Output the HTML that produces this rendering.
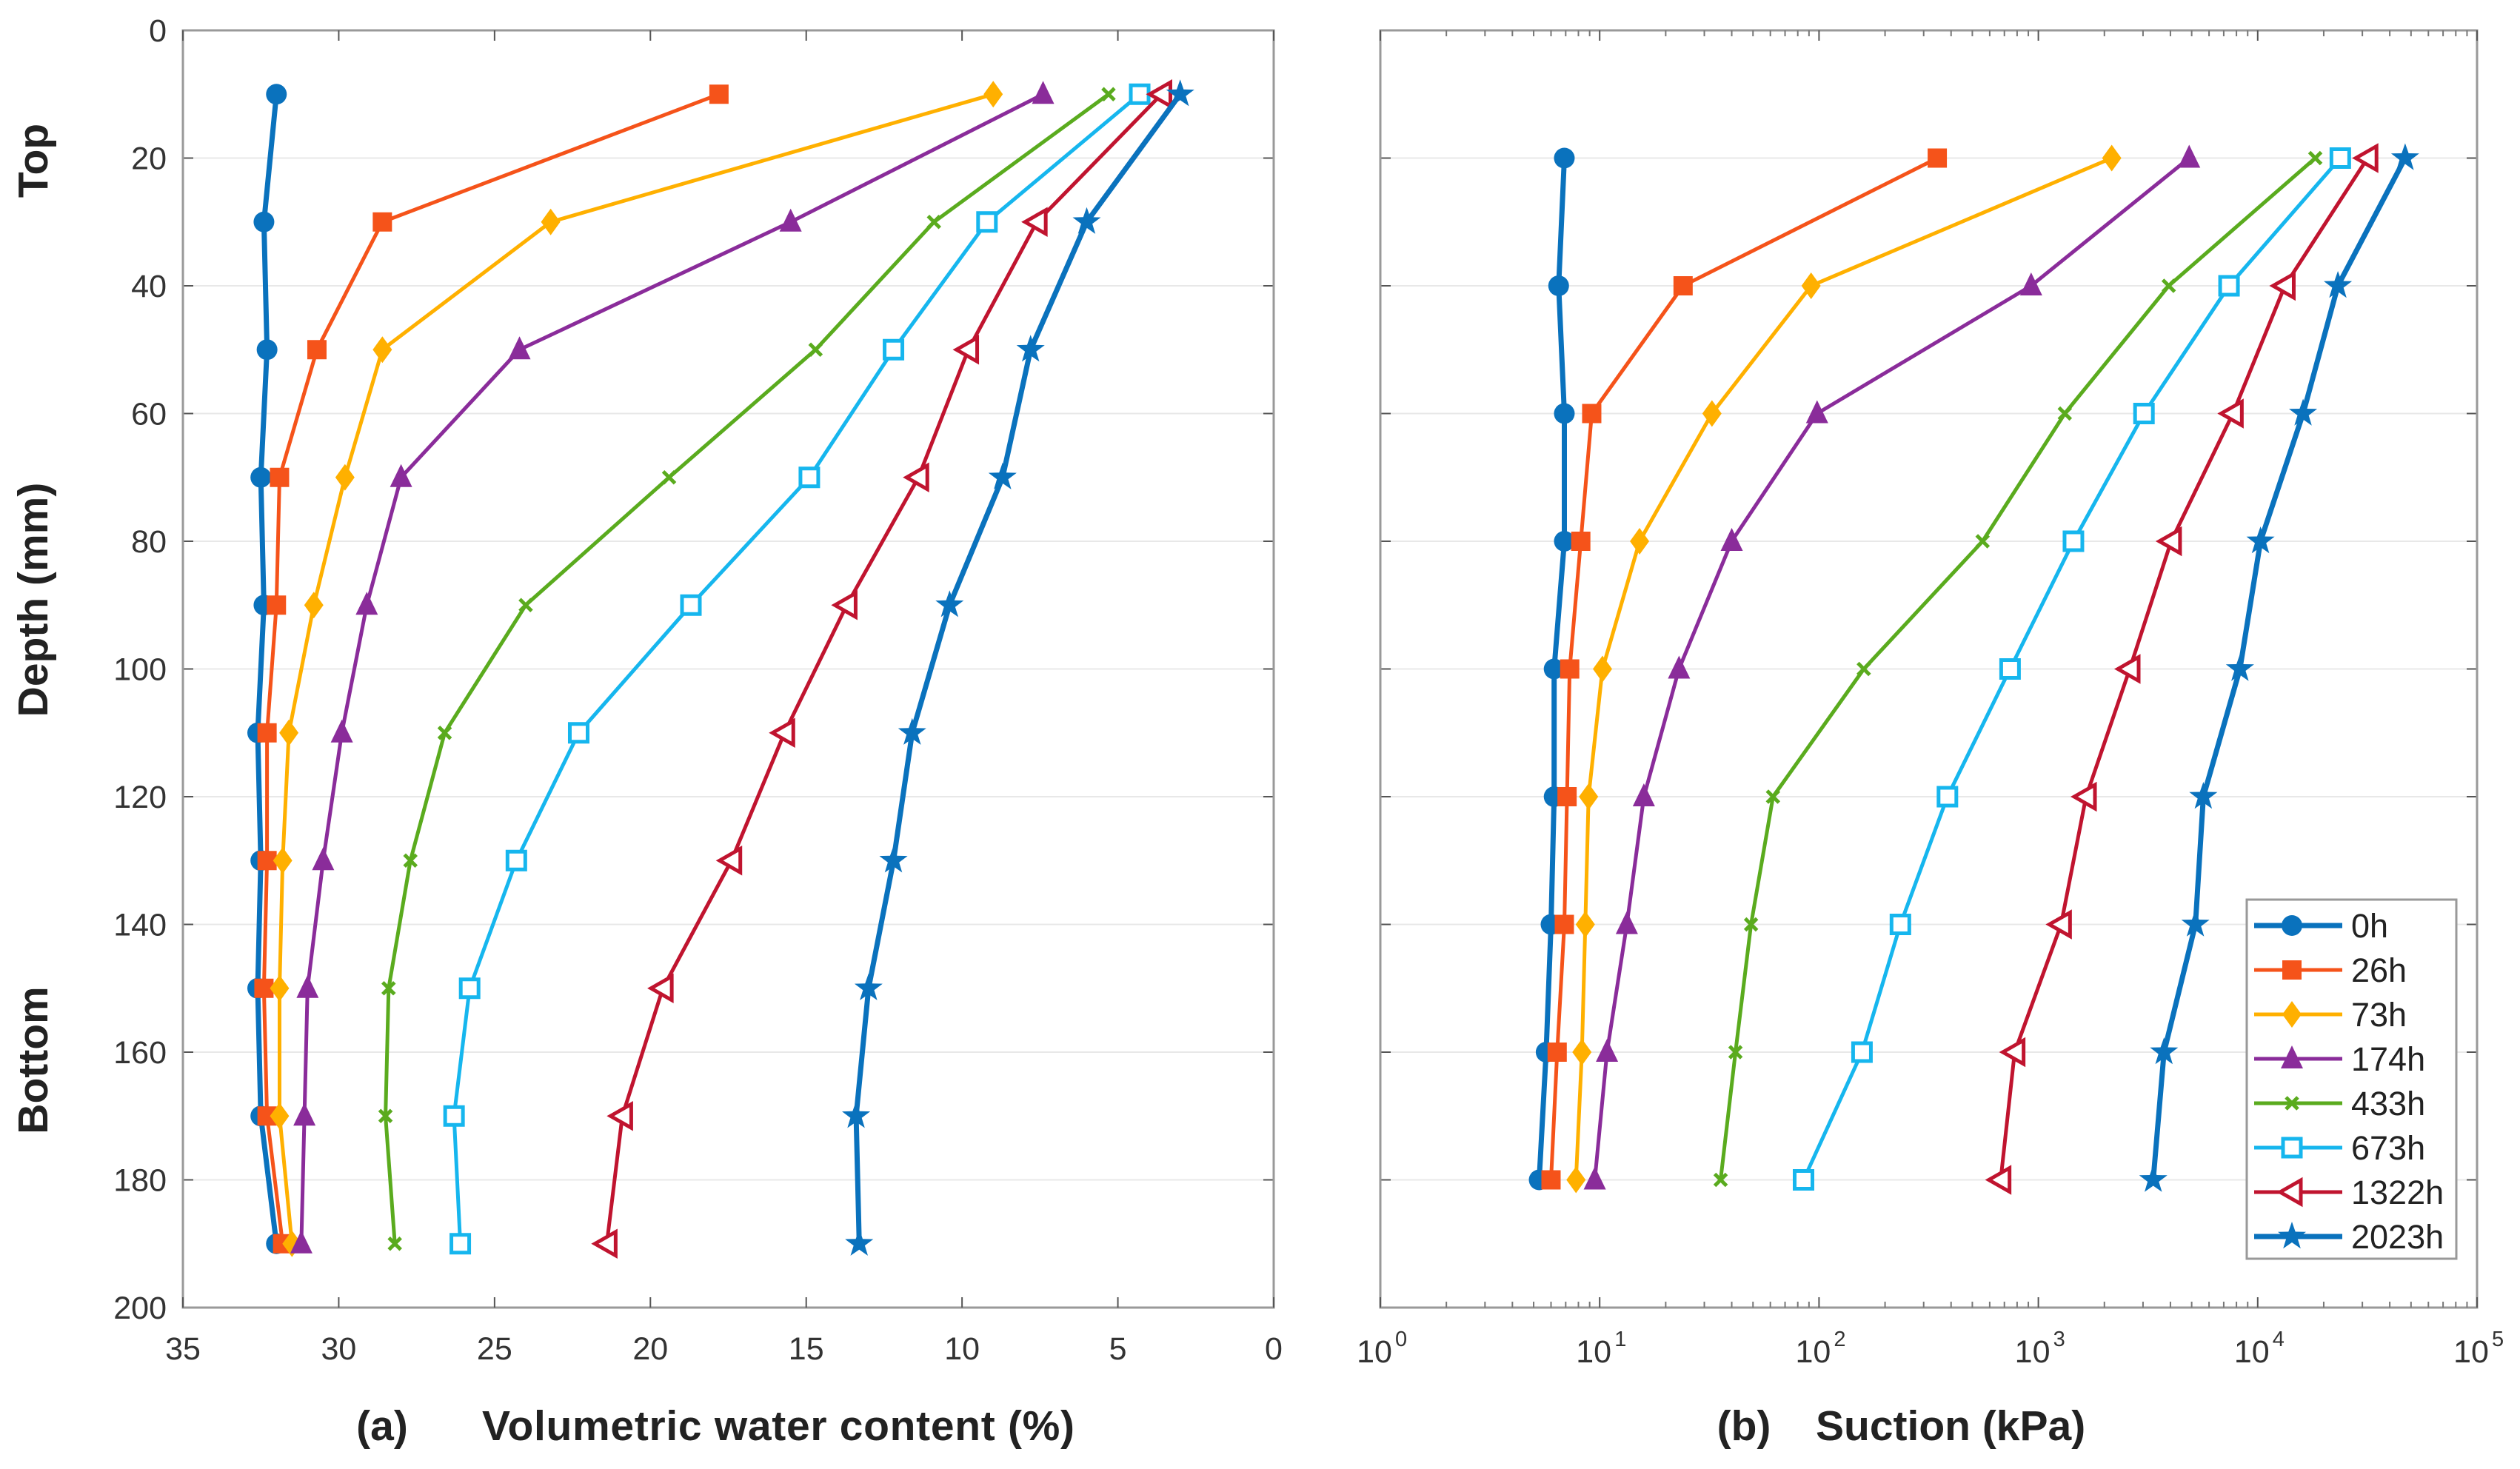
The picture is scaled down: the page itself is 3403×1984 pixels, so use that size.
<!DOCTYPE html>
<html><head><meta charset="utf-8">
<style>
html,body{margin:0;padding:0;background:#fff;}
svg{display:block;font-family:"Liberation Sans",sans-serif;}
</style></head>
<body>
<svg id="chart" width="3403" height="1984" viewBox="0 0 3403 1984" xmlns="http://www.w3.org/2000/svg">
<g id="axA"></g>
<g id="axB"></g>
</svg>
<script>
const seriesNames = ["0h","26h","73h","174h","433h","673h","1322h","2023h"];
const depthsA = [10,30,50,70,90,110,130,150,170,190];
const depthsB = [20,40,60,80,100,120,140,160,180];
const wc0h = [32.0,32.4,32.3,32.5,32.4,32.6,32.5,32.6,32.5,32.0];
const wc26h = [17.8,28.6,30.7,31.9,32.0,32.3,32.3,32.4,32.3,31.8];
const wc73h = [9.0,23.2,28.6,29.8,30.8,31.6,31.8,31.9,31.9,31.5];
const wc174h = [7.4,15.5,24.2,28.0,29.1,29.9,30.5,31.0,31.1,31.2];
const wc433h = [5.3,10.9,14.7,19.4,24.0,26.6,27.7,28.4,28.5,28.2];
const wc673h = [4.3,9.2,12.2,14.9,18.7,22.3,24.3,25.8,26.3,26.1];
const wc1322h = [3.6,7.6,9.8,11.4,13.7,15.7,17.4,19.6,20.9,21.4];
const wc2023h = [3.0,6.0,7.8,8.7,10.4,11.6,12.2,13.0,13.4,13.3];
const su0h = [6.9,6.5,6.9,6.9,6.2,6.2,6.0,5.7,5.3];
const su26h = [346,24,9.2,8.2,7.3,7.1,6.9,6.4,6.0];
const su73h = [2160,92,32.5,15.2,10.3,8.9,8.6,8.3,7.8];
const su174h = [4870,927,98,40,23,15.9,13.3,10.8,9.5];
const su433h = [18300,3930,1320,557,160,61.7,49,41.6,35.6];
const su673h = [23800,7400,3030,1445,743,385,235,157,85];
const su1322h = [31700,13300,7710,4030,2610,1650,1270,780,673];
const su2023h = [47000,23200,16100,10300,8300,5650,5200,3740,3340];
const yTicks = [0,20,40,60,80,100,120,140,160,180,200];
const xTicksA = [35,30,25,20,15,10,5,0];
const xTicksBexp = [0,1,2,3,4,5];

const wcAll=[wc0h,wc26h,wc73h,wc174h,wc433h,wc673h,wc1322h,wc2023h];
const suAll=[su0h,su26h,su73h,su174h,su433h,su673h,su1322h,su2023h];
const colors=["#0a72bd","#f5531a","#ffb000","#8a2c9a","#5aab1e","#16b6ee","#c0142f","#0a72bd"];
const widths=[7,5,5,5,5,5,5,7];
const markers=["circle","square","diamond","triangle","x","osquare","otri","star"];
const NS="http://www.w3.org/2000/svg";
const Y0=41,Y1=1766;
const A={l:247,r:1720}, B={l:1864,r:3345};
const yS=d=>Y0+(d-0)/200*(Y1-Y0);
const xA=v=>A.l+(35-v)/35*(A.r-A.l);
const xB=v=>B.l+Math.log10(v)/5*(B.r-B.l);
function el(tag,attrs,parent){const e=document.createElementNS(NS,tag);for(const k in attrs)e.setAttribute(k,attrs[k]);parent.appendChild(e);return e;}
function marker(g,type,x,y,c){
  let m;
  if(type==="circle") m=el("circle",{cx:x,cy:y,r:14,fill:c},g);
  else if(type==="square") m=el("rect",{x:x-13,y:y-13,width:26,height:26,fill:c},g);
  else if(type==="diamond") m=el("polygon",{points:`${x},${y-18} ${x+13},${y} ${x},${y+18} ${x-13},${y}`,fill:c},g);
  else if(type==="triangle") m=el("polygon",{points:`${x},${y-18} ${x+15},${y+13} ${x-15},${y+13}`,fill:c},g);
  else if(type==="x") m=el("path",{d:`M${x-8},${y-8}L${x+8},${y+8}M${x+8},${y-8}L${x-8},${y+8}`,stroke:c,"stroke-width":5,fill:"none"},g);
  else if(type==="osquare") m=el("rect",{x:x-12,y:y-12,width:24,height:24,fill:"#fff",stroke:c,"stroke-width":5},g);
  else if(type==="otri") m=el("polygon",{points:`${x-16},${y} ${x+12},${y-16} ${x+12},${y+16}`,fill:"#fff",stroke:c,"stroke-width":5},g);
  else { let p=[];for(let i=0;i<10;i++){const a=-Math.PI/2+i*Math.PI/5;const r=i%2?8:20;p.push((x+r*Math.cos(a)).toFixed(1)+","+(y+r*Math.sin(a)).toFixed(1));} m=el("polygon",{points:p.join(" "),fill:c},g);}
  
  
}
function frame(g,ax,labelsY){
  for(const t of yTicks){const y=yS(t);
    if(t>0&&t<200){const gl=el("line",{x1:ax.l,x2:ax.r,y1:y,y2:y,stroke:"#e8e8e8","stroke-width":2},g);}
    el("line",{x1:ax.l,x2:ax.l+14,y1:y,y2:y,stroke:"#555","stroke-width":2},g);
    el("line",{x1:ax.r,x2:ax.r-14,y1:y,y2:y,stroke:"#555","stroke-width":2},g);
    if(labelsY){const tx=el("text",{x:ax.l-22,y:y+15,"text-anchor":"end","font-size":43,fill:"#333"},g);tx.textContent=t;
      }
  }
  const fr=el("rect",{x:ax.l,y:Y0,width:ax.r-ax.l,height:Y1-Y0,fill:"none",stroke:"#999","stroke-width":3},g);
  
}
const gA=document.getElementById("axA"), gB=document.getElementById("axB");
frame(gA,A,true); frame(gB,B,false);
for(const v of xTicksA){const x=xA(v);
  el("line",{x1:x,x2:x,y1:Y1,y2:Y1-14,stroke:"#555","stroke-width":2},gA);
  el("line",{x1:x,x2:x,y1:Y0,y2:Y0+14,stroke:"#555","stroke-width":2},gA);
  const t=el("text",{x:x,y:1836,"text-anchor":"middle","font-size":43,fill:"#333"},gA);t.textContent=v;
  }
for(const e of xTicksBexp){const x=xB(Math.pow(10,e));
  el("line",{x1:x,x2:x,y1:Y1,y2:Y1-14,stroke:"#555","stroke-width":2},gB);
  el("line",{x1:x,x2:x,y1:Y0,y2:Y0+14,stroke:"#555","stroke-width":2},gB);
  if(e<5)for(let k=2;k<10;k++){const xm=xB(k*Math.pow(10,e));el("line",{x1:xm,x2:xm,y1:Y1,y2:Y1-8,stroke:"#777","stroke-width":2},gB);el("line",{x1:xm,x2:xm,y1:Y0,y2:Y0+8,stroke:"#777","stroke-width":2},gB);}
  const t=el("text",{x:x-8,y:1840,"text-anchor":"middle","font-size":43,fill:"#333"},gB);t.textContent="10";
  
  const s=el("text",{x:x+20,y:1818,"font-size":29,fill:"#333"},gB);s.textContent=e;
  }
function series(g,xs,ys,xf,i){
  const sg=el("g",{},g);
  const pts=xs.map((v,j)=>xf(v).toFixed(1)+","+yS(ys[j]).toFixed(1)).join(" ");
  el("polyline",{points:pts,fill:"none",stroke:colors[i],"stroke-width":widths[i],"stroke-linejoin":"round"},sg);
  xs.forEach((v,j)=>marker(sg,markers[i],xf(v),yS(ys[j]),colors[i]));
}
wcAll.forEach((arr,i)=>series(gA,arr,depthsA,xA,i));
suAll.forEach((arr,i)=>series(gB,arr,depthsB,xB,i));
const lg=el("g",{},gB);
el("rect",{x:3034,y:1215,width:283,height:485,fill:"#fff",stroke:"#999","stroke-width":3},lg);
seriesNames.forEach((n,i)=>{const y=1250+i*60;
  const eg=el("g",{},lg);
  el("line",{x1:3044,x2:3163,y1:y,y2:y,stroke:colors[i],"stroke-width":widths[i]},eg);
  marker(eg,markers[i],3095,y,colors[i]);
  const t=el("text",{x:3175,y:y+16,"font-size":45,fill:"#222"},eg);t.textContent=n;});
function txt(g,attrs,s,name){const t=el("text",attrs,g);t.textContent=s;return t;}
txt(gA,{x:516,y:1945,"text-anchor":"middle","font-size":57,"font-weight":"bold",fill:"#222"},"(a)","panel-a-label");
txt(gA,{x:651,y:1945,"font-size":57,"font-weight":"bold",fill:"#222",textLength:800},"Volumetric water content (%)","x-axis-title-a");
txt(gB,{x:2355,y:1945,"text-anchor":"middle","font-size":57,"font-weight":"bold",fill:"#222"},"(b)","panel-b-label");
txt(gB,{x:2452,y:1945,"font-size":57,"font-weight":"bold",fill:"#222"},"Suction (kPa)","x-axis-title-b");
txt(gA,{x:0,y:0,transform:"translate(64,810) rotate(-90)","text-anchor":"middle","font-size":57,"font-weight":"bold",fill:"#222"},"Depth (mm)","y-axis-title");
txt(gA,{x:0,y:0,transform:"translate(64,217) rotate(-90)","text-anchor":"middle","font-size":57,"font-weight":"bold",fill:"#222"},"Top","top-label");
txt(gA,{x:0,y:0,transform:"translate(64,1432) rotate(-90)","text-anchor":"middle","font-size":57,"font-weight":"bold",fill:"#222"},"Bottom","bottom-label");
</script>
</body></html>
